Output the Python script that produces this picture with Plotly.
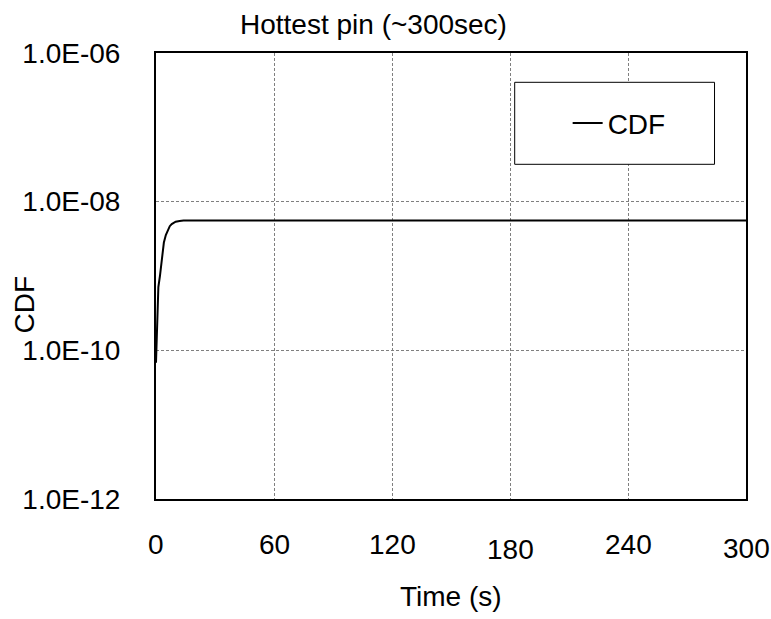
import plotly.graph_objects as go

# Data
time_s = [0, 0.3, 0.7, 1.2, 2, 3, 4, 5, 6, 7, 8, 9, 10, 12, 14, 20, 60, 120, 180, 240, 300]
cdf = [6.8e-11, 1.26e-10, 2.5e-10, 7.1e-10, 1.0e-9, 1.82e-9, 2.82e-9, 3.55e-9, 4.17e-9,
       4.68e-9, 5.0e-9, 5.25e-9, 5.37e-9, 5.5e-9, 5.56e-9, 5.56e-9, 5.56e-9, 5.56e-9,
       5.56e-9, 5.56e-9, 5.56e-9]

x_ticks = [0, 60, 120, 180, 240, 300]
x_tick_labels = ["0", "60", "120", "180", "240", "300"]
x_label_drop = [0, 0, 0, 5, 0, 4]   # the reference draws 180 and 300 slightly lower
y_ticks = [1e-12, 1e-10, 1e-8, 1e-6]
y_tick_labels = ["1.0E-12", "1.0E-10", "1.0E-08", "1.0E-06"]

W, H = 771, 619
L, R, T, B = 156, 24.5, 52.7, 120.3
PW = W - L - R
PH = H - T - B

def px_x(x):
    return (x - L) / PW

def px_y(y):
    return (H - B - y) / PH

FONT = "Liberation Sans, Arial, sans-serif"
FS = 28

fig = go.Figure()
fig.add_trace(go.Scatter(x=time_s, y=cdf, mode="lines", name="CDF",
                         line=dict(color="black", width=2)))

annotations = [
    dict(text="Hottest pin (~300sec)", xref="paper", yref="paper",
         x=px_x(374), y=px_y(24), xanchor="center", yanchor="middle",
         showarrow=False, font=dict(size=FS)),
    dict(text="Time (s)", xref="paper", yref="paper",
         x=0.5, y=px_y(596), xanchor="center", yanchor="middle",
         showarrow=False, font=dict(size=FS)),
    dict(text="CDF", xref="paper", yref="paper", textangle=-90,
         x=px_x(24), y=px_y(304), xanchor="center", yanchor="middle",
         showarrow=False, font=dict(size=FS)),
]
for tv, tt, dy in zip(x_ticks, x_tick_labels, x_label_drop):
    annotations.append(dict(text=tt, xref="x", yref="paper", x=tv, y=px_y(544),
                            yshift=-dy, xanchor="center", yanchor="middle",
                            showarrow=False, font=dict(size=FS)))

fig.update_layout(
    width=W, height=H,
    margin=dict(l=L, r=R, t=T, b=B, pad=0),
    paper_bgcolor="white", plot_bgcolor="white",
    font=dict(family=FONT, size=FS, color="black"),
    showlegend=True,
    legend=dict(x=px_x(568), y=px_y(123), xanchor="left", yanchor="middle",
                bgcolor="rgba(0,0,0,0)", borderwidth=0,
                font=dict(size=FS, family=FONT, color="black")),
    xaxis=dict(range=[0, 300], tickvals=x_ticks, showticklabels=False,
               showgrid=True, gridcolor="#7f7f7f", gridwidth=1, griddash="3px,2px",
               showline=True, linecolor="black", linewidth=2, mirror=True,
               ticks="", zeroline=False),
    yaxis=dict(type="log", range=[-12, -6], tickvals=y_ticks, ticktext=y_tick_labels,
               showgrid=True, gridcolor="#7f7f7f", gridwidth=1, griddash="3px,2px",
               showline=True, linecolor="black", linewidth=2, mirror=True,
               ticks="", ticklabelstandoff=28, zeroline=False),
    shapes=[dict(type="rect", xref="paper", yref="paper",
                 x0=px_x(515), x1=px_x(715), y0=px_y(164), y1=px_y(82),
                 line=dict(color="black", width=1), fillcolor="white", layer="above")],
    annotations=annotations,
)

fig.write_html("out.html", config={"displayModeBar": False},
               post_script="document.body.style.margin='0px';document.body.style.overflow='hidden';")
